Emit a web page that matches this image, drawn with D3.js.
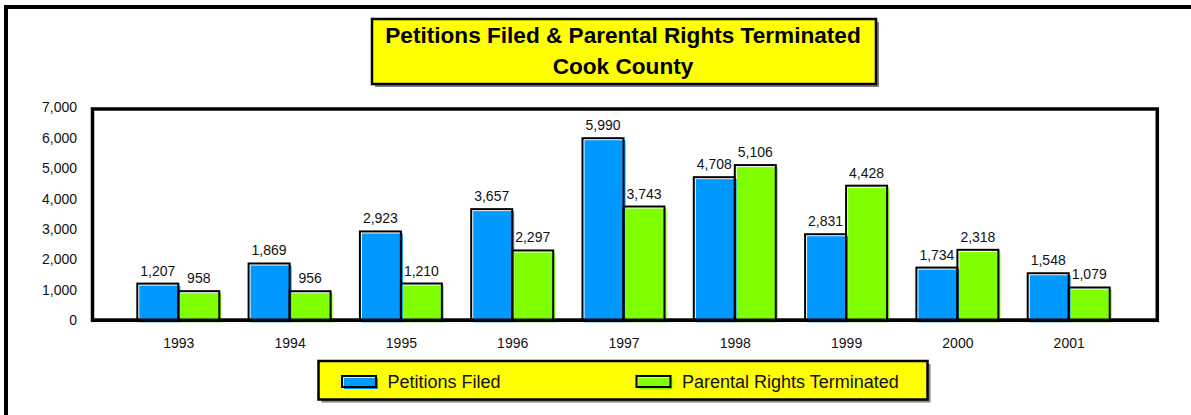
<!DOCTYPE html>
<html><head><meta charset="utf-8">
<script src="https://cdn.jsdelivr.net/npm/d3@7"></script>
<style>
html,body{margin:0;padding:0;background:#fff;}
svg{display:block;font-family:"Liberation Sans",Arial,sans-serif;}
</style></head>
<body>
<svg id="chart" width="1191" height="415"></svg>
<script>
const years = ["1993","1994","1995","1996","1997","1998","1999","2000","2001"];
const petitionsFiled = [1207,1869,2923,3657,5990,4708,2831,1734,1548];
const rightsTerminated = [958,956,1210,2297,3743,5106,4428,2318,1079];
const yTicks = [0,1000,2000,3000,4000,5000,6000,7000];
const seriesNames = ["Petitions Filed","Parental Rights Terminated"];
const titleLines = ["Petitions Filed & Parental Rights Terminated","Cook County"];

const colors = ["#0099FF","#80FF00"];
const svg = d3.select("#chart");
const fmt = d3.format(",");

// outer frame (left and top edges visible)
svg.append("path").attr("d","M6,415 V7 H1191").attr("fill","none").attr("stroke","#000").attr("stroke-width",4);

// title box
const tb = {x:372,y:19,w:504,h:65};
svg.append("rect").attr("x",tb.x+3).attr("y",tb.y+3).attr("width",tb.w).attr("height",tb.h).attr("fill","#808080");
svg.append("rect").attr("x",tb.x).attr("y",tb.y).attr("width",tb.w).attr("height",tb.h).attr("fill","#FFFF00").attr("stroke","#000").attr("stroke-width",2.5);
svg.selectAll("text.title").data(titleLines).join("text").attr("class","title")
  .attr("x",623).attr("y",(d,i)=> i===0 ? 43.3 : 74.3)
  .attr("text-anchor","middle").attr("font-weight","bold").attr("font-size","22.6px").attr("fill","#000").text(d=>d);

// scales
const x = d3.scalePoint().domain(years).range([122.65,1124.35]).padding(0.5);
const y = d3.scaleLinear().domain([0,7000]).range([320.3,107.5]);
const bw = 41;

// plot frame
svg.append("rect").attr("x",92.5).attr("y",109).attr("width",1064.8).attr("height",211.3)
  .attr("fill","#fff").attr("stroke","#000").attr("stroke-width",3.5);

// y axis labels
const yAxis = d3.axisLeft(y).tickValues(yTicks).tickFormat(fmt).tickSize(0).tickPadding(0);
const gy = svg.append("g").attr("transform","translate(77,0)").call(yAxis);
gy.select(".domain").remove();
gy.selectAll("text").attr("font-size","14px").attr("font-family","'Liberation Sans',Arial,sans-serif").attr("fill","#111");

// x axis labels
const xAxis = d3.axisBottom(x).tickSize(0).tickPadding(0);
const gx = svg.append("g").attr("transform","translate(0,338)").call(xAxis);
gx.select(".domain").remove();
gx.selectAll("text").attr("font-size","14px").attr("font-family","'Liberation Sans',Arial,sans-serif").attr("fill","#111");

// bars
const series = [petitionsFiled, rightsTerminated];
series.forEach((vals, si) => {
  const g = svg.append("g");
  const data = years.map((yr,i)=>({yr, v: vals[i], x0: x(yr) + (si===0 ? -bw : 0)}));
  g.selectAll("rect.fill").data(data).join("rect").attr("class","fill")
    .attr("x",d=>d.x0+2).attr("y",d=>y(d.v)+2).attr("width",bw).attr("height",d=>y(0)-y(d.v))
    .attr("fill",colors[si]);
  g.selectAll("rect.outline").data(data).join("rect").attr("class","outline")
    .attr("x",d=>d.x0).attr("y",d=>y(d.v)).attr("width",bw).attr("height",d=>y(0)-y(d.v))
    .attr("fill","none").attr("stroke","#000").attr("stroke-width",2);
});
// baseline over bars
svg.append("line").attr("x1",92.5).attr("x2",1157.3).attr("y1",320.3).attr("y2",320.3).attr("stroke","#000").attr("stroke-width",3.5);

// value labels
series.forEach((vals, si) => {
  svg.append("g").selectAll("text").data(years.map((yr,i)=>({yr,v:vals[i]}))).join("text")
    .attr("x",d=> x(d.yr) + (si===0 ? -bw/2 : bw/2))
    .attr("y",d=> y(d.v) - 8)
    .attr("text-anchor","middle").attr("font-size","14px").attr("fill","#111")
    .text(d=>fmt(d.v));
});

// legend
const lb = {x:318.5,y:361,w:609,h:38.5};
svg.append("rect").attr("x",lb.x+3).attr("y",lb.y+3).attr("width",lb.w).attr("height",lb.h).attr("fill","#808080");
svg.append("rect").attr("x",lb.x).attr("y",lb.y).attr("width",lb.w).attr("height",lb.h).attr("fill","#FFFF00").attr("stroke","#000").attr("stroke-width",2.5);
const legX = [342, 636.5];
const lg = svg.append("g").selectAll("g").data(seriesNames).join("g");
lg.append("rect").attr("x",(d,i)=>legX[i]+2).attr("y",378).attr("width",34).attr("height",11).attr("fill",(d,i)=>colors[i]);
lg.append("rect").attr("x",(d,i)=>legX[i]).attr("y",376).attr("width",34).attr("height",11).attr("fill","none").attr("stroke","#000").attr("stroke-width",2);
lg.append("text").attr("x",(d,i)=>legX[i]+45.5).attr("y",388.3).attr("font-size","18px").attr("fill","#111").text(d=>d);
</script>
</body></html>
